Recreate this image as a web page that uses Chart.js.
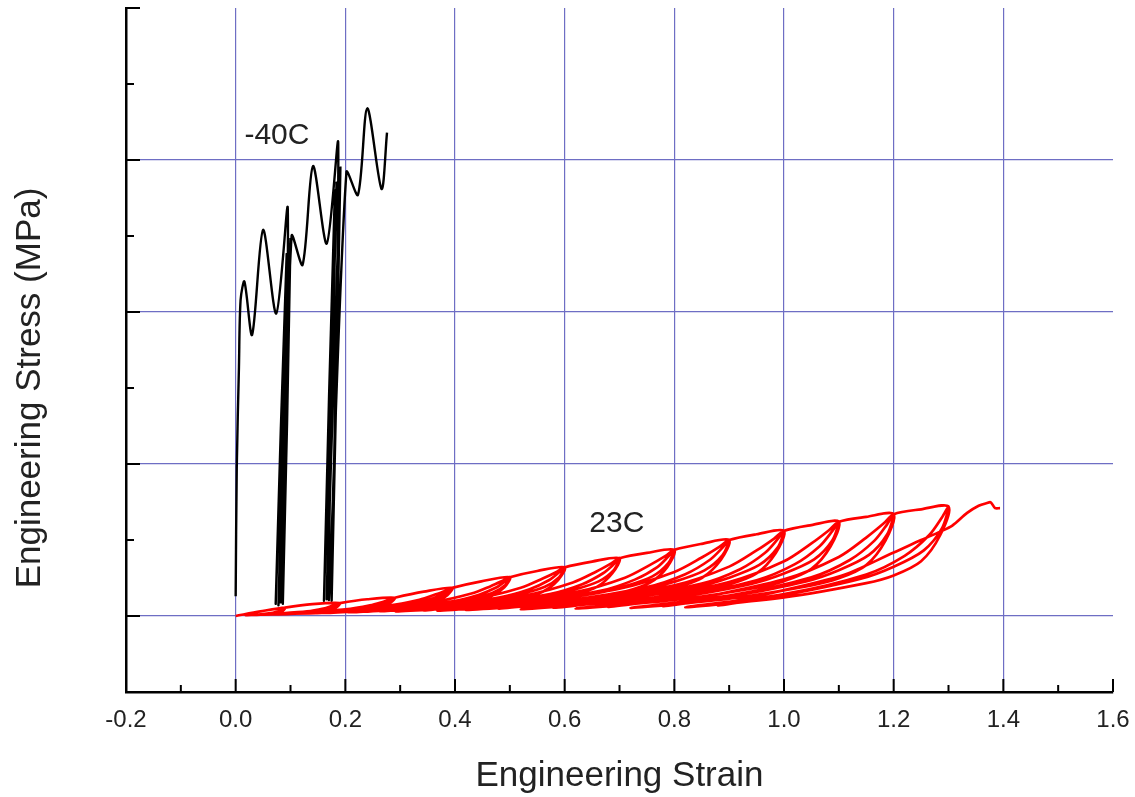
<!DOCTYPE html>
<html>
<head>
<meta charset="utf-8">
<script src="https://cdn.jsdelivr.net/npm/chart.js@4.4.1/dist/chart.umd.min.js"></script>
<style>
  html, body { margin: 0; padding: 0; background: #fff; }
  #wrap { width: 1135px; height: 797px; }
</style>
</head>
<body>
<div id="wrap"><canvas id="stressChart"></canvas></div>
<script>
// -40C test: loading with serrations, two unload/reload bands
const strain40 = [0.0, 0.002, 0.006, 0.009, 0.016, 0.030, 0.050, 0.074, 0.095,
  0.086, 0.100, 0.078, 0.096, 0.073, 0.093, 0.082, 0.102,
  0.122, 0.141, 0.166, 0.187,
  0.175, 0.191, 0.166, 0.184, 0.161, 0.181, 0.170, 0.202,
  0.223, 0.240, 0.266, 0.276];
const stress40 = [1.3, 9.8, 16.4, 20.8, 22.0, 18.5, 25.4, 19.9, 26.8,
  0.8, 24.8, 0.7, 24.2, 0.8, 23.8, 0.9, 25.0,
  23.1, 29.6, 24.5, 31.1,
  1.0, 29.5, 1.1, 28.5, 1.0, 28.0, 1.05, 29.2,
  27.7, 33.4, 28.1, 31.8];

// 23C test: hysteresis loops, tips every ~0.1 strain
const strain23 = [
  0, 0.045, 0.09,
  0.088, 0.083, 0.075, 0.068, 0.045, 0.018,
  0.045, 0.068, 0.078, 0.085, 0.088, 0.09,
  0.14, 0.19,
  0.186, 0.175, 0.16, 0.145, 0.1, 0.046,
  0.1, 0.145, 0.166, 0.18, 0.186, 0.19,
  0.186, 0.177, 0.16, 0.142, 0.1, 0.064,
  0.13, 0.16, 0.175, 0.185, 0.19,
  0.24, 0.29,
  0.283, 0.268, 0.245, 0.223, 0.155, 0.074,
  0.155, 0.223, 0.254, 0.274, 0.285, 0.29,
  0.285, 0.27, 0.245, 0.218, 0.155, 0.101,
  0.2, 0.245, 0.268, 0.282, 0.29,
  0.343, 0.395,
  0.386, 0.365, 0.335, 0.305, 0.215, 0.107,
  0.215, 0.305, 0.347, 0.374, 0.388, 0.395,
  0.388, 0.368, 0.335, 0.299, 0.215, 0.143,
  0.275, 0.335, 0.365, 0.384, 0.395,
  0.448, 0.5,
  0.49, 0.465, 0.43, 0.395, 0.29, 0.164,
  0.29, 0.395, 0.444, 0.476, 0.492, 0.5,
  0.492, 0.469, 0.43, 0.388, 0.29, 0.206,
  0.36, 0.43, 0.465, 0.487, 0.5,
  0.55, 0.6,
  0.588, 0.56, 0.52, 0.48, 0.36, 0.216,
  0.36, 0.48, 0.536, 0.572, 0.59, 0.6,
  0.59, 0.564, 0.52, 0.472, 0.36, 0.264,
  0.44, 0.52, 0.56, 0.586, 0.6,
  0.65, 0.7,
  0.687, 0.658, 0.615, 0.573, 0.445, 0.292,
  0.445, 0.573, 0.632, 0.67, 0.69, 0.7,
  0.69, 0.662, 0.615, 0.564, 0.445, 0.343,
  0.53, 0.615, 0.658, 0.685, 0.7,
  0.75, 0.8,
  0.787, 0.755, 0.71, 0.665, 0.53, 0.368,
  0.53, 0.665, 0.728, 0.769, 0.789, 0.8,
  0.789, 0.76, 0.71, 0.656, 0.53, 0.422,
  0.62, 0.71, 0.755, 0.784, 0.8,
  0.85, 0.9,
  0.885, 0.85, 0.8, 0.75, 0.6, 0.42,
  0.6, 0.75, 0.82, 0.865, 0.888, 0.9,
  0.888, 0.855, 0.8, 0.74, 0.6, 0.48,
  0.7, 0.8, 0.85, 0.882, 0.9,
  0.95, 1.0,
  0.985, 0.95, 0.9, 0.85, 0.7, 0.52,
  0.7, 0.85, 0.92, 0.965, 0.988, 1.0,
  0.988, 0.955, 0.9, 0.84, 0.7, 0.58,
  0.8, 0.9, 0.95, 0.982, 1.0,
  1.05, 1.1,
  1.085, 1.05, 1.0, 0.95, 0.8, 0.62,
  0.8, 0.95, 1.02, 1.065, 1.088, 1.1,
  1.088, 1.055, 1.0, 0.94, 0.8, 0.68,
  0.9, 1.0, 1.05, 1.082, 1.1,
  1.15, 1.2,
  1.185, 1.15, 1.1, 1.05, 0.9, 0.72,
  0.9, 1.05, 1.12, 1.165, 1.188, 1.2,
  1.188, 1.155, 1.1, 1.04, 0.9, 0.78,
  1.0, 1.1, 1.15, 1.182, 1.2,
  1.25, 1.3,
  1.285, 1.25, 1.2, 1.15, 1.0, 0.82,
  1.0, 1.15, 1.22, 1.265, 1.288, 1.3,
  1.288, 1.255, 1.2, 1.14, 1.0, 0.88,
  1.1, 1.2, 1.25, 1.285, 1.307, 1.334, 1.355, 1.37, 1.377, 1.385, 1.394
];
const stress23 = [
  0, 0.3, 0.55,
  0.407, 0.275, 0.204, 0.165, 0.094, 0.061,
  0.11, 0.209, 0.303, 0.407, 0.495, 0.55,
  0.78, 0.85,
  0.629, 0.425, 0.315, 0.255, 0.145, 0.094,
  0.17, 0.323, 0.468, 0.629, 0.765, 0.85,
  0.68, 0.51, 0.383, 0.289, 0.162, 0.119,
  0.306, 0.493, 0.655, 0.774, 0.85,
  1.1, 1.2,
  0.888, 0.6, 0.444, 0.36, 0.204, 0.132,
  0.24, 0.456, 0.66, 0.888, 1.08, 1.2,
  0.96, 0.72, 0.54, 0.408, 0.228, 0.168,
  0.432, 0.696, 0.924, 1.092, 1.2,
  1.6, 1.85,
  1.369, 0.925, 0.685, 0.555, 0.315, 0.148,
  0.37, 0.703, 1.018, 1.369, 1.665, 1.85,
  1.48, 1.11, 0.833, 0.629, 0.352, 0.185,
  0.666, 1.073, 1.425, 1.684, 1.85,
  2.28, 2.55,
  1.887, 1.275, 0.944, 0.765, 0.434, 0.204,
  0.51, 0.969, 1.403, 1.887, 2.295, 2.55,
  2.04, 1.53, 1.148, 0.867, 0.485, 0.255,
  0.918, 1.479, 1.964, 2.321, 2.55,
  2.96, 3.2,
  2.368, 1.6, 1.184, 0.96, 0.544, 0.256,
  0.64, 1.216, 1.76, 2.368, 2.88, 3.2,
  2.56, 1.92, 1.44, 1.088, 0.608, 0.32,
  1.152, 1.856, 2.464, 2.912, 3.2,
  3.58, 3.8,
  2.812, 1.9, 1.406, 1.14, 0.646, 0.304,
  0.76, 1.444, 2.09, 2.812, 3.42, 3.8,
  3.04, 2.28, 1.71, 1.292, 0.722, 0.38,
  1.368, 2.204, 2.926, 3.458, 3.8,
  4.15, 4.35,
  3.219, 2.175, 1.61, 1.305, 0.74, 0.348,
  0.87, 1.653, 2.393, 3.219, 3.915, 4.35,
  3.48, 2.61, 1.958, 1.479, 0.827, 0.435,
  1.566, 2.523, 3.35, 3.959, 4.35,
  4.75, 5.0,
  3.7, 2.5, 1.85, 1.5, 0.85, 0.4,
  1.0, 1.9, 2.75, 3.7, 4.5, 5.0,
  4.0, 3.0, 2.25, 1.7, 0.95, 0.5,
  1.8, 2.9, 3.85, 4.55, 5.0,
  5.38, 5.6,
  4.144, 2.8, 2.072, 1.68, 0.952, 0.448,
  1.12, 2.128, 3.08, 4.144, 5.04, 5.6,
  4.48, 3.36, 2.52, 1.904, 1.064, 0.56,
  2.016, 3.248, 4.312, 5.096, 5.6,
  5.98, 6.2,
  4.588, 3.1, 2.294, 1.86, 1.054, 0.496,
  1.24, 2.356, 3.41, 4.588, 5.58, 6.2,
  4.96, 3.72, 2.79, 2.108, 1.178, 0.62,
  2.232, 3.596, 4.774, 5.642, 6.2,
  6.52, 6.7,
  4.958, 3.35, 2.479, 2.01, 1.139, 0.536,
  1.34, 2.546, 3.685, 4.958, 6.03, 6.7,
  5.36, 4.02, 3.015, 2.278, 1.273, 0.67,
  2.412, 3.886, 5.159, 6.097, 6.7,
  7.02, 7.2,
  5.328, 3.6, 2.664, 2.16, 1.224, 0.576,
  1.44, 2.736, 3.96, 5.328, 6.48, 7.2,
  5.76, 4.32, 3.24, 2.448, 1.368, 0.72,
  2.592, 4.176, 5.0, 5.55, 5.95, 6.78, 7.25, 7.43, 7.48, 7.1, 7.1
];

// curve labels (text, strain, stress)
const curveLabels = [
  ['-40C', 0.016, 31.6],
  ['23C', 0.645, 6.05]
];

const gridBlue = '#6e6ec4';
const font = 'Liberation Sans, Arial, Helvetica, sans-serif';

const toPoints = (xs, ys) => xs.map((x, i) => ({ x: x, y: ys[i] }));

// tick marks drawn inside the plot, curve labels and the y title
const innerTicks = {
  id: 'innerTicks',
  afterDraw(chart) {
    const { ctx, chartArea, scales: { x, y } } = chart;
    ctx.save();
    ctx.strokeStyle = '#000';
    ctx.lineWidth = 2;
    ctx.beginPath();
    x.ticks.forEach((t) => {
      if (t.value <= -0.2 + 1e-6) return;
      const px = x.getPixelForValue(t.value);
      const len = Math.round(t.value * 10) % 2 === 0 ? 13 : 7;
      ctx.moveTo(px, chartArea.bottom);
      ctx.lineTo(px, chartArea.bottom - len);
    });
    y.ticks.forEach((t) => {
      if (t.value <= -5) return;
      const py = y.getPixelForValue(t.value);
      const len = t.value % 10 === 0 ? 14 : 8;
      ctx.moveTo(chartArea.left, py);
      ctx.lineTo(chartArea.left + len, py);
    });
    ctx.stroke();

    ctx.fillStyle = '#222';
    ctx.font = '30px ' + font;
    ctx.textAlign = 'left';
    ctx.textBaseline = 'middle';
    curveLabels.forEach(([text, sx, sy]) => {
      ctx.fillText(text, x.getPixelForValue(sx), y.getPixelForValue(sy));
    });

    // y axis title, sits a little below the middle of the axis
    ctx.font = '35px ' + font;
    ctx.textAlign = 'center';
    ctx.translate(30, y.getPixelForValue(15));
    ctx.rotate(-Math.PI / 2);
    ctx.fillText('Engineering Stress (MPa)', 0, 0);
    ctx.restore();
  }
};

const ctx = document.getElementById('stressChart').getContext('2d');
new Chart(ctx, {
  type: 'scatter',
  data: {
    datasets: [
      {
        label: '23C',
        data: toPoints(strain23, stress23),
        showLine: true,
        borderColor: '#ff0000',
        borderWidth: 2.7,
        pointRadius: 0,
        tension: 0.3
      },
      {
        label: '-40C',
        data: toPoints(strain40, stress40),
        showLine: true,
        borderColor: '#000000',
        borderWidth: 2.4,
        pointRadius: 0,
        tension: 0.3
      }
    ]
  },
  options: {
    responsive: true,
    maintainAspectRatio: false,
    animation: false,
    layout: { padding: { top: 8, right: 22, left: 0, bottom: 0 } },
    plugins: {
      legend: { display: false },
      tooltip: { enabled: false }
    },
    scales: {
      x: {
        type: 'linear',
        min: -0.2,
        max: 1.6,
        afterFit: (s) => { s.height = 105; s.paddingRight = 0; s.paddingLeft = 0; },
        ticks: {
          stepSize: 0.1,
          autoSkip: false,
          maxRotation: 0,
          padding: 14,
          color: '#222',
          font: { size: 24, family: font },
          callback: (v) => (Math.round(v * 10) % 2 === 0 ? v.toFixed(1) : '')
        },
        grid: {
          drawTicks: false,
          lineWidth: 1.2,
          color: (c) => {
            const v = c.tick ? c.tick.value : 0;
            const major = Math.round(v * 10) % 2 === 0;
            return major && v > -0.15 && v < 1.55 ? gridBlue : 'rgba(0,0,0,0)';
          }
        },
        border: { color: '#000', width: 2.5 },
        title: {
          display: true,
          text: 'Engineering Strain',
          color: '#222',
          font: { size: 35, family: font },
          padding: { top: 0, bottom: 0 }
        }
      },
      y: {
        type: 'linear',
        min: -5,
        max: 40,
        afterFit: (s) => { s.width = 126; },
        ticks: { stepSize: 5, display: false },
        grid: {
          drawTicks: false,
          lineWidth: 1.2,
          color: (c) => {
            const v = c.tick ? c.tick.value : 0;
            return v % 10 === 0 && v >= 0 && v <= 30 ? gridBlue : 'rgba(0,0,0,0)';
          }
        },
        border: { color: '#000', width: 2.5 },
        title: { display: false }
      }
    }
  },
  plugins: [innerTicks]
});
</script>
</body>
</html>
